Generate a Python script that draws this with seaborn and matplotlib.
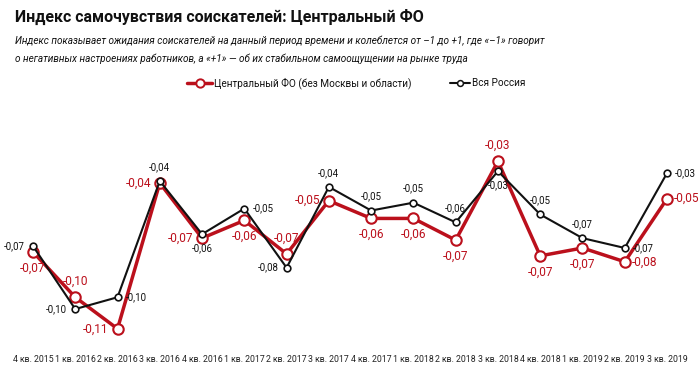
import pandas as pd
import seaborn as sns
import matplotlib.pyplot as plt

# Quarters and index values
quarters = ['4 кв. 2015', '1 кв. 2016', '2 кв. 2016', '3 кв. 2016', '4 кв. 2016',
            '1 кв. 2017', '2 кв. 2017', '3 кв. 2017', '4 кв. 2017', '1 кв. 2018',
            '2 кв. 2018', '3 кв. 2018', '4 кв. 2018', '1 кв. 2019', '2 кв. 2019',
            '3 кв. 2019']
central = [-0.073, -0.096, -0.112, -0.038, -0.066, -0.057, -0.074, -0.047,
           -0.056, -0.056, -0.067, -0.027, -0.075, -0.071, -0.078, -0.046]
russia = [-0.070, -0.102, -0.096, -0.037, -0.064, -0.051, -0.081, -0.040,
          -0.052, -0.048, -0.058, -0.032, -0.054, -0.066, -0.071, -0.033]
central_labels = ['-0,07', '-0,10', '-0,11', '-0,04', '-0,07', '-0,06', '-0,07', '-0,05',
                  '-0,06', '-0,06', '-0,07', '-0,03', '-0,07', '-0,07', '-0,08', '-0,05']
russia_labels = ['-0,07', '-0,10', '-0,10', '-0,04', '-0,06', '-0,05', '-0,08', '-0,04',
                 '-0,05', '-0,05', '-0,06', '-0,03', '-0,05', '-0,07', '-0,07', '-0,03']

# where each value label sits relative to its point
central_pos = ['b', 'a', 'l', 'l', 'l', 'b', 'a', 'l', 'b', 'b', 'b', 'a', 'b', 'b', 'r', 'r']
russia_pos = ['l', 'l', 'r', 'a', 'b', 'r', 'l', 'a', 'a', 'a', 'a', 'b', 'a', 'a', 'r', 'r']

RED = '#bb101c'
BLACK = '#111111'

sns.set_theme(style='white')
plt.rcParams['font.family'] = ['Roboto', 'DejaVu Sans']

df = pd.DataFrame({'x': range(len(quarters)), 'central': central, 'russia': russia})

fig = plt.figure(figsize=(7, 3.72), dpi=100)
ax = fig.add_axes([0, 1 - 340 / 372, 1, 200 / 372])

sns.lineplot(data=df, x='x', y='russia', ax=ax, color=BLACK, lw=1.5, marker='o',
             markersize=4.8, markerfacecolor='white', markeredgecolor=BLACK,
             markeredgewidth=1.2, zorder=3)
sns.lineplot(data=df, x='x', y='central', ax=ax, color=RED, lw=2.5, marker='o',
             markersize=7.5, markerfacecolor='white', markeredgecolor=RED,
             markeredgewidth=1.5, zorder=2)

black_off = {'a': (0, 14, 'center'), 'b': (0, -14, 'center'),
             'l': (-8, 0, 'right'), 'r': (8, 0, 'left')}
red_off = {'a': (0, 16, 'center'), 'b': (0, -16, 'center'),
           'l': (-9, 0, 'right'), 'r': (7, 0, 'left')}

for i, (v, t, p) in enumerate(zip(russia, russia_labels, russia_pos)):
    dx, dy, ha = black_off[p]
    ax.annotate(t, (i, v), xytext=(dx, dy), textcoords='offset pixels',
                ha=ha, va='center', fontsize=7, color=BLACK, zorder=5)
for i, (v, t, p) in enumerate(zip(central, central_labels, central_pos)):
    dx, dy, ha = red_off[p]
    ax.annotate(t, (i, v), xytext=(dx, dy), textcoords='offset pixels',
                ha=ha, va='center', fontsize=8.6, color=RED, zorder=5)

ax.set_xlim(-0.78, 15.78)
ax.set_ylim(-0.1177, -0.0162)
ax.set_xticks(range(len(quarters)))
ax.set_xticklabels(quarters, fontsize=6.3, color='#222222')
ax.set_yticks([])
ax.tick_params(axis='x', length=0, pad=11)
ax.set_xlabel('')
ax.set_ylabel('')
sns.despine(ax=ax, left=True, bottom=True)

fig.text(15 / 700, 1 - 17 / 372, 'Индекс самочувствия соискателей: Центральный ФО',
         fontsize=11.5, fontweight='bold', va='center', color='#111111')
fig.text(15 / 700, 1 - 41 / 372,
         'Индекс показывает ожидания соискателей на данный период времени и колеблется '
         'от –1 до +1, где «–1» говорит',
         fontsize=7.2, style='italic', va='center', color='#111111')
fig.text(15 / 700, 1 - 59 / 372,
         'о негативных настроениях работников, а «+1» — об их стабильном самоощущении '
         'на рынке труда',
         fontsize=7.2, style='italic', va='center', color='#111111')

# legend drawn as figure artists
ly = 1 - 83 / 372
fig.lines.append(plt.Line2D([187 / 700, 212 / 700], [ly, ly], color=RED, lw=2.5,
                            transform=fig.transFigure))
fig.lines.append(plt.Line2D([200 / 700], [ly], color=RED, marker='o', markersize=6,
                            markerfacecolor='white', markeredgewidth=1.4,
                            transform=fig.transFigure))
fig.text(214 / 700, ly, 'Центральный ФО (без Москвы и области)', fontsize=7.2,
         va='center', color='#111111')
fig.lines.append(plt.Line2D([450 / 700, 470 / 700], [ly, ly], color=BLACK, lw=1.5,
                            transform=fig.transFigure))
fig.lines.append(plt.Line2D([460 / 700], [ly], color=BLACK, marker='o', markersize=4.2,
                            markerfacecolor='white', markeredgewidth=1.1,
                            transform=fig.transFigure))
fig.text(472 / 700, ly, 'Вся Россия', fontsize=7.2, va='center', color='#111111')

fig.savefig('out.png', dpi=100)
